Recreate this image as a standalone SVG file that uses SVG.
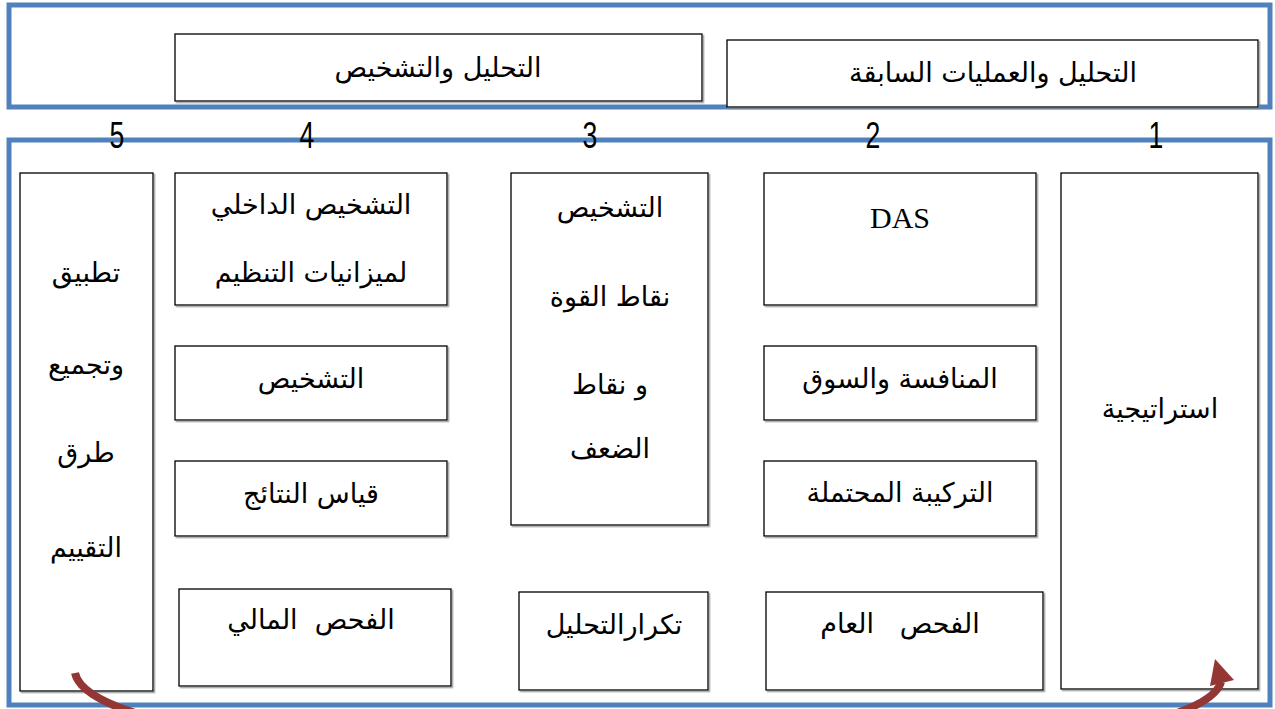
<svg xmlns="http://www.w3.org/2000/svg" width="1275" height="709" viewBox="0 0 1275 709">
<defs>
<filter id="sh" x="-5%" y="-5%" width="110%" height="110%"><feDropShadow dx="1.5" dy="1.5" stdDeviation="0.6" flood-color="#888" flood-opacity="0.8"/></filter>
</defs>
<style>
.frame{fill:none;stroke:#4f81bd;stroke-width:5}
.box{fill:#fff;stroke:#000;stroke-width:1.3;filter:url(#sh)}
.ar{font-family:"DejaVu Sans","Liberation Sans",sans-serif;font-size:27px;fill:#000;text-anchor:middle;white-space:pre}
.num{font-family:"Liberation Sans","DejaVu Sans",sans-serif;font-size:37px;fill:#000;text-anchor:middle}
.lat{font-family:"Liberation Serif",serif;font-size:30px;fill:#000;text-anchor:middle}
.arrow{fill:none;stroke:#943634;stroke-width:8}
</style>
<rect width="1275" height="709" fill="#fff"/>
<g id="frame-top"><rect class="frame" x="9" y="5" width="1261" height="102"/></g>
<g id="frame-main"><rect class="frame" x="9" y="140" width="1261" height="565"/></g>
<g id="numbers">
<text class="num" transform="translate(117,148) scale(0.72,1)">5</text>
<text class="num" transform="translate(307,148) scale(0.72,1)">4</text>
<text class="num" transform="translate(590,148) scale(0.72,1)">3</text>
<text class="num" transform="translate(873,148) scale(0.72,1)">2</text>
<text class="num" transform="translate(1156,148) scale(0.72,1)">1</text>
</g>
<g id="h-diagnosis"><rect class="box" x="175" y="34" width="527" height="67"/><text class="ar" x="438" y="77">التحليل والتشخيص</text></g>
<g id="h-previous"><rect class="box" x="727" y="40" width="531" height="67"/><text class="ar" x="993" y="82">التحليل والعمليات السابقة</text></g>
<g id="c5"><rect class="box" x="20" y="173" width="133" height="518"/>
<text class="ar" x="86" y="282">تطبيق</text>
<text class="ar" x="86" y="374">وتجميع</text>
<text class="ar" x="86" y="462">طرق</text>
<text class="ar" x="86" y="557">التقييم</text></g>
<g id="c4a"><rect class="box" x="175" y="173" width="272" height="132"/>
<text class="ar" x="311" y="214">التشخيص الداخلي</text>
<text class="ar" x="311" y="282">لميزانيات التنظيم</text></g>
<g id="c4b"><rect class="box" x="175" y="346" width="272" height="74"/><text class="ar" x="311" y="388">التشخيص</text></g>
<g id="c4c"><rect class="box" x="175" y="461" width="272" height="75"/><text class="ar" x="311" y="503">قياس النتائج</text></g>
<g id="c4d"><rect class="box" x="179" y="589" width="272" height="97"/><text class="ar" x="311" y="629">الفحص  المالي</text></g>
<g id="c3a"><rect class="box" x="511" y="173" width="197" height="352"/>
<text class="ar" x="610" y="217">التشخيص</text>
<text class="ar" x="610" y="306">نقاط القوة</text>
<text class="ar" x="610" y="394">و نقاط</text>
<text class="ar" x="610" y="458">الضعف</text></g>
<g id="c3b"><rect class="box" x="519" y="592" width="189" height="98"/><text class="ar" x="614" y="634">تكرارالتحليل</text></g>
<g id="c2a"><rect class="box" x="764" y="173" width="272" height="132"/><text class="lat" x="900" y="228">DAS</text></g>
<g id="c2b"><rect class="box" x="764" y="346" width="272" height="74"/><text class="ar" x="900" y="388">المنافسة والسوق</text></g>
<g id="c2c"><rect class="box" x="764" y="461" width="272" height="75"/><text class="ar" x="900" y="502">التركيبة المحتملة</text></g>
<g id="c2d"><rect class="box" x="766" y="592" width="277" height="98"/><text class="ar" x="900" y="633">الفحص   العام</text></g>
<g id="c1"><rect class="box" x="1061" y="173" width="197" height="516"/><text class="ar" x="1160" y="418">استراتيجية</text></g>
<g id="connectors">
<path class="arrow" d="M75,673 C100,790 1190,790 1221,682"/>
<polygon points="1215,659 1234,680 1210,686" fill="#943634"/>
</g>
</svg>
